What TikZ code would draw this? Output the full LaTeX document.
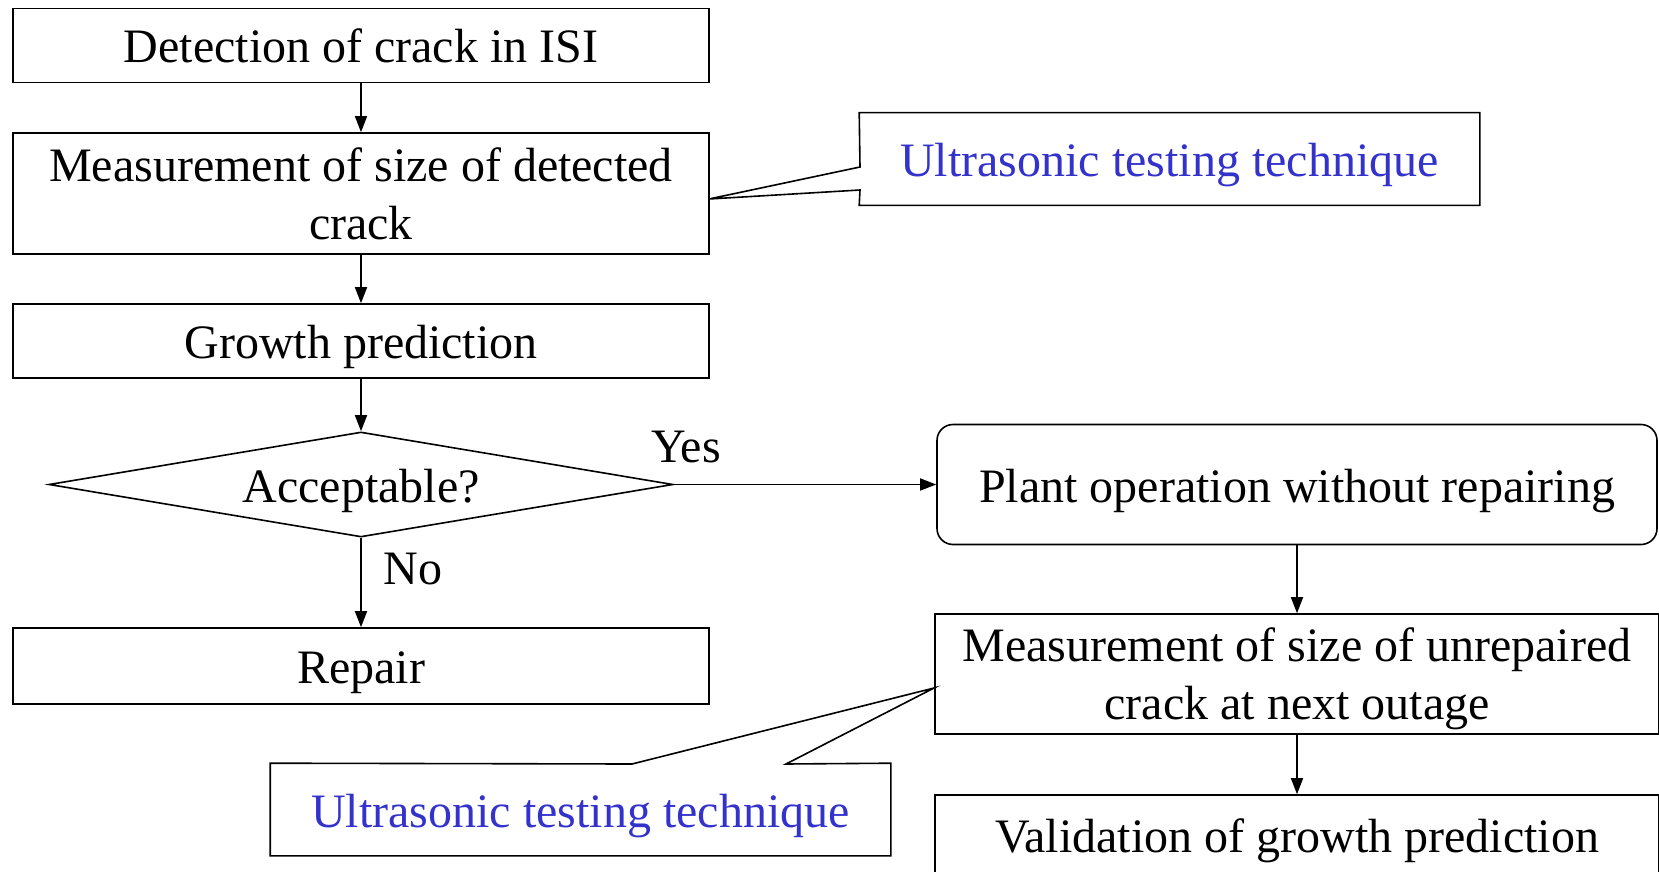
\documentclass[tikz,border=0pt]{standalone}
\usepackage{fontspec}
\setmainfont{Liberation Serif}
\usetikzlibrary{shapes.geometric,arrows.meta}
\definecolor{utblue}{RGB}{51,51,204}
\begin{document}
\begin{tikzpicture}[x=0.5pt,y=-0.5pt,line width=0.8pt,
  font=\fontsize{24}{29}\selectfont,
  oneline/.style={text height=22.5pt,text depth=5pt},
  twoline/.style={text depth=0pt},
  stepbox/.style={draw,rectangle,inner sep=0pt,minimum width=348pt,
    minimum height=37pt,align=center},
  tallbox/.style={stepbox,minimum height=60.5pt},
  rightbox/.style={draw,rectangle,inner sep=0pt,minimum width=362pt,
    minimum height=60pt,align=center},
  plantbox/.style={rightbox,rounded corners=8pt,minimum width=360pt},
  decision/.style={draw,diamond,aspect=6,inner sep=0pt,
    minimum width=312pt,minimum height=52.5pt},
  uttext/.style={inner sep=0pt,minimum width=309.5pt,minimum height=45.5pt,
    text=utblue},
  flow/.style={-{Triangle[length=8pt,width=6pt]}}]
 \useasboundingbox (0,0) rectangle (1659,872);
 % left column
 \node[stepbox,oneline] (detect) at (361,45.5) {Detection of crack in ISI};
 \node[tallbox,twoline] (meas) at (361,193.5) {Measurement of size of detected\\crack};
 \node[stepbox,oneline] (growth) at (361,341) {Growth prediction};
 \node[decision,oneline] (accept) at (361,484.5) {Acceptable?};
 \node[stepbox,oneline,minimum height=38pt] (repair) at (361,666) {Repair};
 % right column
 \node[plantbox,oneline] (plant) at (1297,484.5) {Plant operation without repairing};
 \node[rightbox,twoline] (meas2) at (1297,674)
   {Measurement of size of unrepaired\\crack at next outage};
 \node[rightbox,oneline,minimum height=40pt] (valid) at (1297,835)
   {Validation of growth prediction};
 % callouts
 \node[uttext,oneline] (ut1) at (1169.5,159) {Ultrasonic testing technique};
 \coordinate (ut1tip) at (709,199);
 \draw (ut1.north west) -- (ut1.north east) -- (ut1.south east)
   -- (ut1.south west) -- (860,190) -- (ut1tip) -- (860,167) -- cycle;
 \node[uttext,oneline] (ut2) at (580.5,809.5) {Ultrasonic testing technique};
 \coordinate (ut2tip) at (934,688);
 \draw (ut2.south west) -- (ut2.south east) -- (ut2.north east)
   -- (786,764) -- (ut2tip) -- (632,764) -- (ut2.north west) -- cycle;
 % connectors
 \draw[flow] (detect) -- (meas);
 \draw[flow] (meas) -- (growth);
 \draw[flow] (growth) -- (accept);
 \draw[flow] (accept) -- (repair);
 \draw[flow] (accept) -- (plant);
 \draw[flow] (plant) -- (meas2);
 \draw[flow] (meas2) -- (valid);
 \node[oneline] (yes) at (686,445) {Yes};
 \node[oneline] (no) at (413,567) {No};
\end{tikzpicture}
\end{document}
